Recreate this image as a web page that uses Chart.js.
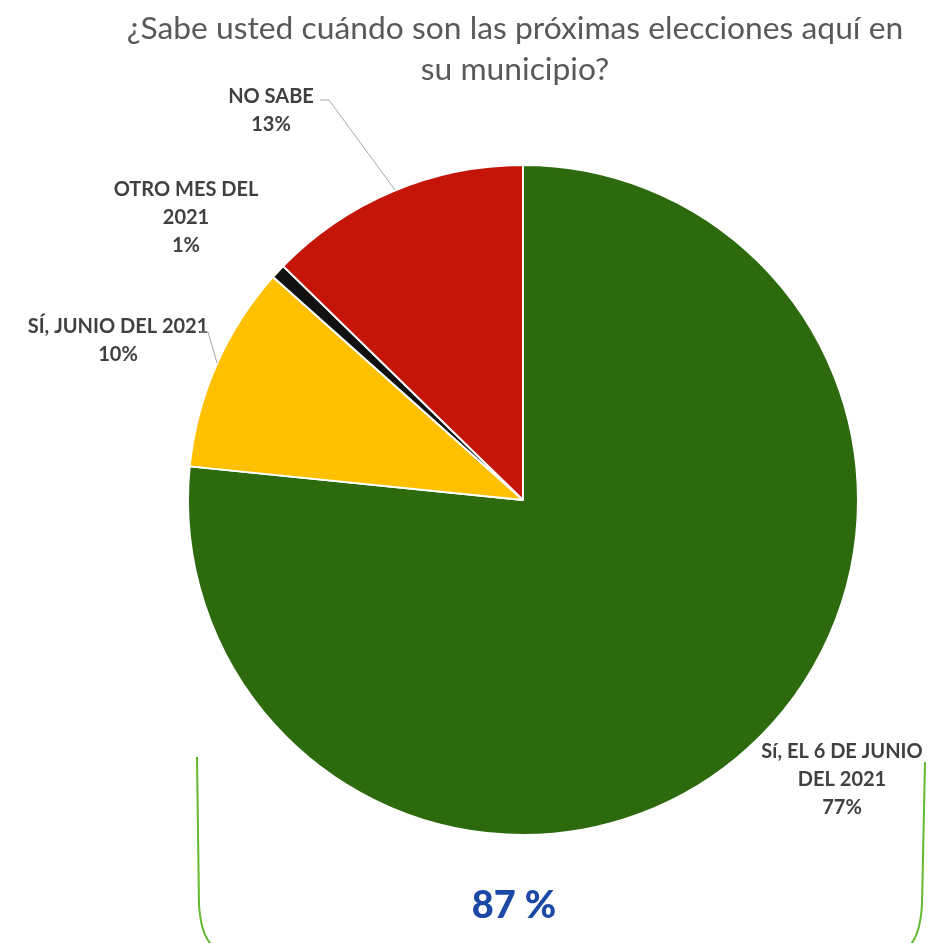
<!DOCTYPE html>
<html>
<head>
<meta charset="utf-8">
<script src="https://cdn.jsdelivr.net/npm/chart.js@4"></script>
<style>
  html, body { margin: 0; padding: 0; background: #fff; }
  #wrap { width: 930px; height: 943px; position: relative; }
</style>
</head>
<body>
<div id="wrap"><canvas id="pie"></canvas></div>
<script>
const categories = [
  ["Sí, EL 6 DE JUNIO", "DEL 2021"],
  ["SÍ, JUNIO DEL 2021"],
  ["OTRO MES DEL", "2021"],
  ["NO SABE"]
];
const values = [76.6, 10.0, 0.7, 12.7];
const colors = ["#2d6a0e", "#ffc000", "#111111", "#c41508"];
const titleLines = ["¿Sabe usted cuándo son las próximas elecciones aquí en", "su municipio?"];
const totalNote = "87 %";

// where each label block sits, and its leader line (if any)
const labelPos = [
  { x: 842, y: 752, line: null },
  { x: 118, y: 327, line: [[200, 332], [208, 332], [217, 363]] },
  { x: 186, y: 190, line: null },
  { x: 271, y: 97, line: [[320, 100], [329, 100], [395, 190]] }
];

const overlay = {
  id: "overlay",
  afterDraw(chart) {
    const ctx = chart.ctx;
    ctx.save();
    // title
    ctx.fillStyle = "#595959";
    ctx.font = "31.8px Lato";
    ctx.textAlign = "center";
    ctx.textBaseline = "middle";
    titleLines.forEach((t, i) => ctx.fillText(t, 515, 29 + i * 41));

    // data labels
    const total = values.reduce((a, b) => a + b, 0);
    ctx.font = "bold 20px Lato";
    ctx.fillStyle = "#404040";
    categories.forEach((lines, i) => {
      const p = labelPos[i];
      const txt = lines.concat([Math.round(values[i] / total * 100) + "%"]);
      txt.forEach((t, j) => ctx.fillText(t, p.x, p.y + j * 28));
      if (p.line) {
        ctx.strokeStyle = "#a6a6a6";
        ctx.lineWidth = 1;
        ctx.beginPath();
        p.line.forEach((pt, k) => k ? ctx.lineTo(pt[0], pt[1]) : ctx.moveTo(pt[0], pt[1]));
        ctx.stroke();
      }
    });

    // green frame at bottom
    ctx.strokeStyle = "#62b92e";
    ctx.lineWidth = 2;
    ctx.beginPath();
    ctx.moveTo(197, 757);
    ctx.lineTo(199, 905);
    ctx.quadraticCurveTo(201, 935, 212, 945);
    ctx.moveTo(925, 762);
    ctx.lineTo(922, 905);
    ctx.quadraticCurveTo(920, 935, 910, 945);
    ctx.stroke();

    // note
    ctx.fillStyle = "#1c48a6";
    ctx.font = "900 38px Lato";
    ctx.fillText(totalNote, 514, 906);
    ctx.restore();
  }
};

new Chart(document.getElementById("pie"), {
  type: "pie",
  data: {
    labels: categories.map(c => c.join(" ")),
    datasets: [{
      data: values,
      backgroundColor: colors,
      borderColor: "#ffffff",
      borderWidth: 2
    }]
  },
  options: {
    responsive: true,
    maintainAspectRatio: false,
    animation: false,
    layout: { padding: { left: 187, right: 71, top: 164, bottom: 107 } },
    plugins: {
      legend: { display: false },
      tooltip: { enabled: false }
    }
  },
  plugins: [overlay]
});
</script>
</body>
</html>
